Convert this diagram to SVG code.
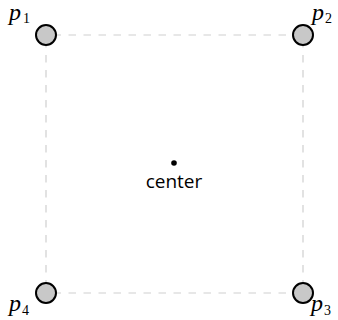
<svg xmlns="http://www.w3.org/2000/svg" width="338" height="320" viewBox="0 0 338 320">
<style>
.edge{stroke:#cfcfcf;stroke-width:1.2;stroke-dasharray:7.5 7.5;fill:none}
.h{stroke-dashoffset:7.5}
.v{stroke-dashoffset:10}
.pt{fill:#c8c8c8;stroke:#000;stroke-width:2}
.lbl{font-family:"Liberation Serif",serif;font-style:italic;font-size:24px;fill:#000}
.sub{font-family:"Liberation Serif",serif;font-size:14px;fill:#000}
.ctr{font-family:"Open Sans","Noto Sans",sans-serif;font-size:19px;fill:#000}
</style>
<rect width="338" height="320" fill="#fff"/>
<g id="connectors">
<line class="edge h" x1="46" y1="35" x2="303" y2="35"/>
<line class="edge v" x1="303" y1="35" x2="303" y2="293"/>
<line class="edge h" x1="46" y1="293" x2="303" y2="293"/>
<line class="edge v" x1="46" y1="35" x2="46" y2="293"/>
</g>
<g id="p1"><circle class="pt" cx="46" cy="35" r="10"/><text class="lbl" x="9" y="20">p</text><text class="sub" x="23" y="23">1</text></g>
<g id="p2"><circle class="pt" cx="303" cy="35" r="10"/><text class="lbl" x="312" y="20">p</text><text class="sub" x="325" y="23">2</text></g>
<g id="p3"><circle class="pt" cx="303" cy="293" r="10"/><text class="lbl" x="311" y="311">p</text><text class="sub" x="324" y="315">3</text></g>
<g id="p4"><circle class="pt" cx="46" cy="293" r="10"/><text class="lbl" x="9" y="311">p</text><text class="sub" x="22" y="315">4</text></g>
<g id="center"><circle cx="174" cy="163" r="2.8" fill="#000"/><text class="ctr" x="174" y="188" text-anchor="middle">center</text></g>
</svg>
